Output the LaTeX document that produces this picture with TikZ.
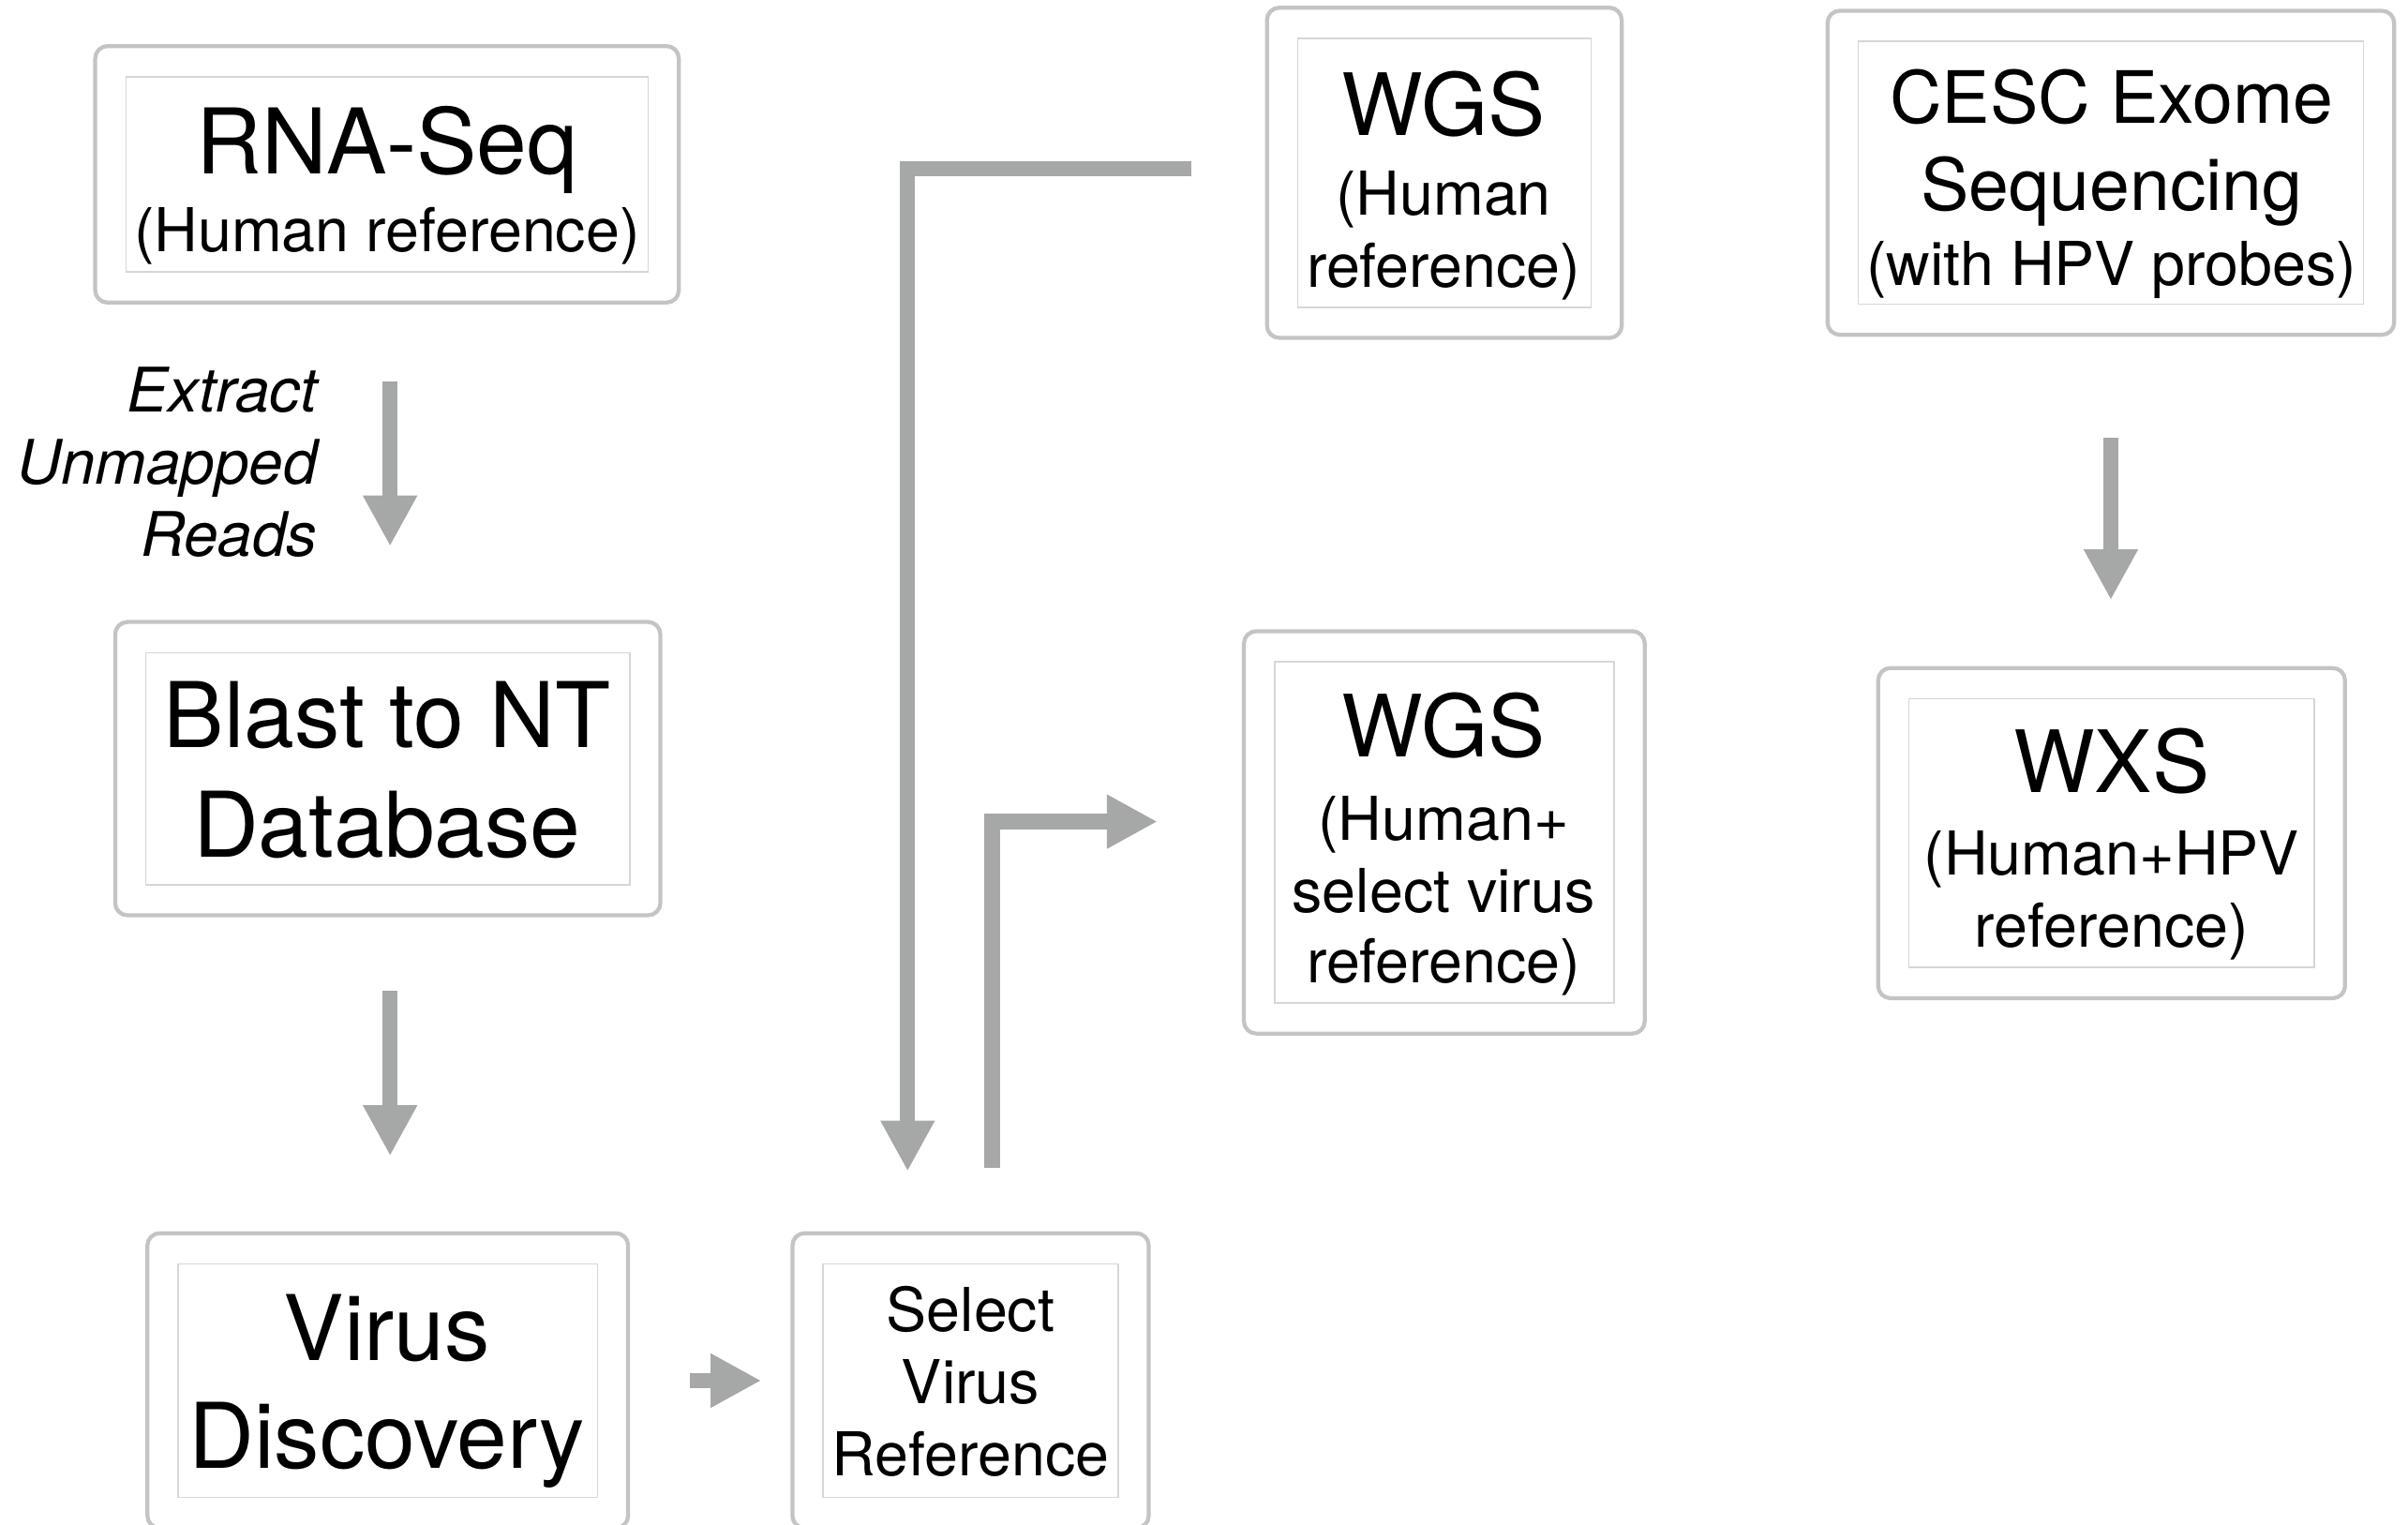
\documentclass[tikz,border=0pt]{standalone}
\usepackage{fontspec}
\setmainfont{TeX Gyre Heros}
\usetikzlibrary{arrows.meta}
\definecolor{arrowgray}{RGB}{165,168,167}
\definecolor{outerline}{RGB}{196,196,196}
\definecolor{innerline}{RGB}{214,214,214}
\newcommand\diagbox[5]{%
  \node[outerbox, minimum width=#4*0.5pt, minimum height=#5*0.5pt] (#1) at (#2,#3) {};
  \node[innerbox, minimum width=(#4-40)*0.5pt, minimum height=(#5-40)*0.5pt] (#1i) at (#2,#3) {};}
\begin{document}
\begin{tikzpicture}[x=0.5pt,y=-0.5pt,
  outerbox/.style={draw=outerline, line width=1.3pt, rounded corners=4pt, fill=white, inner sep=0pt},
  innerbox/.style={draw=innerline, line width=0.5pt, inner sep=0pt},
  big/.style={anchor=base, inner sep=0pt, font=\fontsize{29.5pt}{34pt}\selectfont},
  bigw/.style={anchor=base, inner sep=0pt, font=\fontsize{28pt}{34pt}\selectfont},
  med/.style={anchor=base, inner sep=0pt, font=\fontsize{19.7pt}{23pt}\selectfont},
  cesc/.style={anchor=base, inner sep=0pt, font=\fontsize{23.5pt}{27pt}\selectfont},
  lbl/.style={anchor=base east, inner sep=0pt, font=\itshape\fontsize{20pt}{24pt}\selectfont},
  flow/.style={draw=arrowgray, line width=5pt, -{Triangle[width=16.5pt,length=16.5pt]}}]
\useasboundingbox (0,0) rectangle (1568,993);
\fill[white] (0,0) rectangle (1568,993);

% boxes
\diagbox{rna}{252}{113.5}{380}{167}
\diagbox{blast}{252.5}{500.5}{355}{191}
\diagbox{virus}{252.5}{899}{313}{192}
\diagbox{sel}{632}{899}{232}{192}
\diagbox{wgsa}{940.5}{112.5}{231}{215}
\diagbox{wgsb}{940.5}{542}{261}{262}
\diagbox{cesc}{1374.5}{112.5}{369}{211}
\diagbox{wxs}{1375}{542.5}{304}{215}

% texts
\node[big] (t1a) at (252,113) {RNA-Seq};
\node[med] (t1b) at (252,164) {(Human reference)};

\node[big] (t2a) at (252,487) {Blast to NT};
\node[big] (t2b) at (252,558) {Database};

\node[big] (t3a) at (252,886) {Virus};
\node[big] (t3b) at (252,956) {Discovery};

\node[med] (t4a) at (632,867) {Select};
\node[med] (t4b) at (632,914) {Virus};
\node[med] (t4c) at (632,961) {Reference};

\node[bigw] (t5a) at (940,88) {WGS};
\node[med] (t5b) at (940,140) {(Human};
\node[med] (t5c) at (940,187) {reference)};

\node[bigw] (t6a) at (940,493) {WGS};
\node[med] (t6b) at (940,547) {(Human+};
\node[med] (t6c) at (940,594) {select virus};
\node[med] (t6d) at (940,640) {reference)};

\node[cesc] (t7a) at (1375,80) {CESC Exome};
\node[cesc] (t7b) at (1375,137) {Sequencing};
\node[med] (t7c) at (1375,186) {(with HPV probes)};

\node[bigw] (t8a) at (1375,516) {WXS};
\node[med] (t8b) at (1375,570) {(Human+HPV};
\node[med] (t8c) at (1375,617) {reference)};

\node[lbl] (l1) at (207,268) {Extract};
\node[lbl] (l2) at (207,315) {Unmapped};
\node[lbl] (l3) at (207,362) {Reads};

% connectors
\draw[flow, shorten <=25pt, shorten >=24pt] ([xshift=1pt]rna.south) -- ([xshift=0.75pt]blast.north);
\draw[flow, shorten <=24pt, shorten >=24.5pt] ([xshift=0.75pt]blast.south) -- ([xshift=0.75pt]virus.north);
\draw[flow, shorten <=19.5pt, shorten >=9.5pt] (virus.east) -- (sel.west);
\draw[flow, shorten <=24pt, shorten >=19.5pt] ([yshift=1.25pt]wgsa.west) -| ([xshift=-20.5pt]sel.north);
\draw[flow, shorten <=20.5pt, shorten >=27.5pt] ([xshift=7pt]sel.north) |- ([yshift=3.5pt]wgsb.west);
\draw[flow, shorten <=33pt, shorten >=21.5pt] (cesc.south) -- ([xshift=-0.25pt]wxs.north);
\end{tikzpicture}
\end{document}
